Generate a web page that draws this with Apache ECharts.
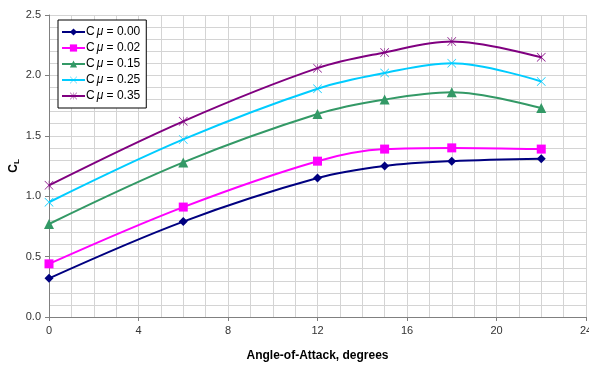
<!DOCTYPE html>
<html>
<head>
<meta charset="utf-8">
<script src="https://cdn.jsdelivr.net/npm/echarts@6/dist/echarts.min.js"></script>
<style>html,body{margin:0;padding:0;background:#fff}#c{width:589px;height:366px}</style>
</head>
<body>
<div id="c"></div>
<script>
// Angle of attack (degrees) at which lift was measured
const alpha = [0, 6, 12, 15, 18, 22];
// Lift coefficient for each blowing momentum coefficient
const cl000 = [0.32, 0.79, 1.15, 1.25, 1.29, 1.31];
const cl002 = [0.44, 0.91, 1.29, 1.39, 1.40, 1.39];
const cl015 = [0.77, 1.28, 1.68, 1.80, 1.86, 1.73];
const cl025 = [0.95, 1.47, 1.89, 2.02, 2.10, 1.95];
const cl035 = [1.09, 1.62, 2.06, 2.19, 2.28, 2.15];
const cmuLabels = ['0.00', '0.02', '0.15', '0.25', '0.35'];

const X_PATH = 'path://M0,1 L1,0 L10,9 L19,0 L20,1 L11,10 L20,19 L19,20 L10,11 L1,20 L0,19 L9,10 Z';
const STAR_PATH = 'path://M0,1 L1,0 L9.5,8.5 L9.5,0 L10.5,0 L10.5,8.5 L19,0 L20,1 L11,10 L20,19 L19,20 L10.5,11.5 L10.5,20 L9.5,20 L9.5,11.5 L1,20 L0,19 L9,10 Z';

const defs = [
  {vals: cl000, color: '#000080', symbol: 'diamond', size: 9},
  {vals: cl002, color: '#ff00ff', symbol: 'rect', size: 9},
  {vals: cl015, color: '#339966', symbol: 'triangle', size: 10},
  {vals: cl025, color: '#00ccff', symbol: X_PATH, size: 9},
  {vals: cl035, color: '#800080', symbol: STAR_PATH, size: 9}
];

const series = defs.map((d, i) => ({
  name: cmuLabels[i],
  type: 'line',
  smooth: 0.35,
  data: alpha.map((a, j) => [a, d.vals[j]]),
  symbol: d.symbol,
  symbolSize: d.size,
  showAllSymbol: true,
  lineStyle: {color: d.color, width: 2},
  itemStyle: {color: d.color, borderWidth: 0},
  z: 2 + i
}));

const chart = echarts.init(document.getElementById('c'), null, {renderer: 'canvas'});
const FONT = 'Liberation Sans, Arial, sans-serif';
chart.setOption({
  animation: false,
  backgroundColor: '#fff',
  grid: {left: 49, right: 3, top: 15, bottom: 49, containLabel: false, outerBoundsMode: 'none'},
  legend: {
    left: 58, top: 20,
    orient: 'vertical',
    itemGap: 2,
    itemWidth: 23, itemHeight: 9,
    padding: [5, 6, 5, 3],
    backgroundColor: '#fff',
    borderColor: '#000',
    borderWidth: 1,
    borderRadius: 0,
    textStyle: {
      fontFamily: FONT, fontSize: 12, color: '#000', lineHeight: 14, padding: [0, 0, 0, -4],
      rich: {
        t: {fontFamily: FONT, fontSize: 12, color: '#000', lineHeight: 14},
        m: {fontFamily: FONT, fontSize: 12, fontStyle: 'italic', color: '#000', lineHeight: 14, padding: [0, 0, 0, 2]}
      }
    },
    formatter: n => '{t|C}{m|μ}{t| = ' + n + '}',
    data: series.map(s => s.name)
  },
  xAxis: {
    type: 'value', min: 0, max: 24, interval: 4,
    name: 'Angle-of-Attack, degrees',
    nameLocation: 'middle', nameGap: 33,
    nameTextStyle: {fontFamily: FONT, fontSize: 12, fontWeight: 'bold', color: '#000'},
    axisLine: {show: true, onZero: false, lineStyle: {color: '#808080', width: 1}},
    axisTick: {show: true, length: 4, inside: false, lineStyle: {color: '#808080'}},
    minorTick: {show: false, splitNumber: 4},
    minorSplitLine: {show: true, lineStyle: {color: '#d4d4d4', width: 1}},
    splitLine: {show: true, lineStyle: {color: '#d4d4d4', width: 1}},
    axisLabel: {fontFamily: FONT, fontSize: 11, color: '#333', margin: 8}
  },
  yAxis: {
    type: 'value', min: 0, max: 2.5, interval: 0.5,
    name: 'C{s|L}',
    nameLocation: 'middle', nameGap: 28, nameRotate: 90,
    nameMoveOverlap: false,
    nameTextStyle: {fontFamily: FONT, fontSize: 12, fontWeight: 'bold', color: '#000',
      rich: {s: {fontFamily: FONT, fontSize: 8, fontWeight: 'bold', verticalAlign: 'bottom', padding: [6, 0, 0, 0]}}},
    axisLine: {show: true, lineStyle: {color: '#808080', width: 1}},
    axisTick: {show: true, length: 4, lineStyle: {color: '#808080'}},
    minorTick: {show: false, splitNumber: 5},
    minorSplitLine: {show: true, lineStyle: {color: '#d4d4d4', width: 1}},
    splitLine: {show: true, lineStyle: {color: '#d4d4d4', width: 1}},
    axisLabel: {fontFamily: FONT, fontSize: 11, color: '#333', margin: 8, formatter: v => v.toFixed(1)}
  },
  series: series
});
</script>
</body>
</html>
